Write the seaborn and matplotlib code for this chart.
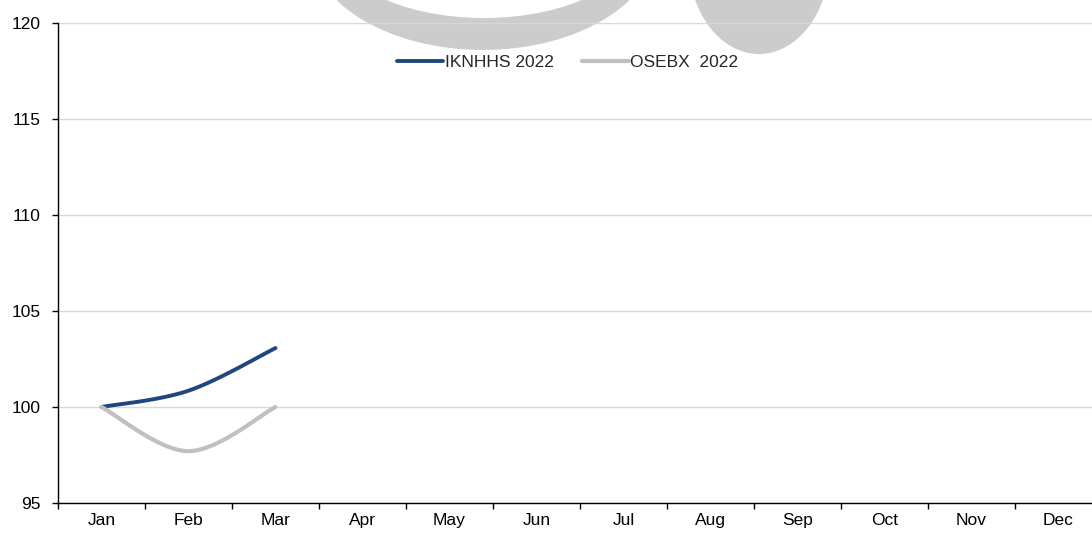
import numpy as np
import pandas as pd
import matplotlib
matplotlib.use("Agg")
import matplotlib.pyplot as plt
from matplotlib.patches import Ellipse
import seaborn as sns

# data
months = ["Jan", "Feb", "Mar", "Apr", "May", "Jun", "Jul", "Aug", "Sep", "Oct", "Nov", "Dec"]
iknhhs_2022 = [100.0, 100.85, 103.07]
osebx_2022 = [100.0, 97.7, 100.0]
series_names = ["IKNHHS 2022", "OSEBX  2022"]
series_colors = ["#1F477D", "#C0C0C0"]
y_ticks = [95, 100, 105, 110, 115, 120]


def smooth(values, n=40):
    # excel-like smoothed line: bezier segments with catmull-rom control points
    pts = np.column_stack([np.arange(len(values)), values]).astype(float)
    xs, ys = [], []
    for i in range(len(pts) - 1):
        p0 = pts[max(i - 1, 0)]
        p1 = pts[i]
        p2 = pts[i + 1]
        p3 = pts[min(i + 2, len(pts) - 1)]
        c1 = p1 + (p2 - p0) / 6
        c2 = p2 - (p3 - p1) / 6
        t = np.linspace(0, 1, n)[:, None]
        seg = (1 - t) ** 3 * p1 + 3 * (1 - t) ** 2 * t * c1 + 3 * (1 - t) * t ** 2 * c2 + t ** 3 * p2
        xs.extend(seg[:, 0])
        ys.extend(seg[:, 1])
    return xs, ys


sns.set_theme(style="white")
plt.rcParams["font.family"] = ["Liberation Sans", "DejaVu Sans"]

fig = plt.figure(figsize=(10.92, 5.36), dpi=100)
W, H = 1092, 536
ax = fig.add_axes([58 / W, 33 / H, 1044 / W, 480 / H])
ax.set_facecolor("none")

# grey watermark behind the plot (figure pixel coordinates)
to_fig = lambda x, y: (x / W, 1 - y / H)
wm = "#CCCCCC"
fig.patches.append(Ellipse(to_fig(483, -60), 350 / W, 220 / H, transform=fig.transFigure,
                           facecolor=wm, edgecolor="none", zorder=-2))
fig.patches.append(Ellipse(to_fig(484, -60), 306 / W, 156 / H, transform=fig.transFigure,
                           facecolor="white", edgecolor="none", zorder=-1))
fig.patches.append(Ellipse(to_fig(759, -40), 141 / W, 188 / H, transform=fig.transFigure,
                           facecolor=wm, edgecolor="none", zorder=-2))

rows = []
for name, vals in zip(series_names, [iknhhs_2022, osebx_2022]):
    xs, ys = smooth(vals)
    rows.append(pd.DataFrame({"x": xs, "y": ys, "serie": name}))
df = pd.concat(rows, ignore_index=True)

for name, color, lw in zip(series_names, series_colors, [2.8, 3.0]):
    sub = df[df["serie"] == name]
    sns.lineplot(data=sub, x="x", y="y", ax=ax, sort=False, color=color,
                 linewidth=lw, label=name, solid_capstyle="round", zorder=3)

ax.set_xlim(-0.5, 11.5)
ax.set_ylim(95, 120)
ax.set_yticks(y_ticks)
ax.set_yticklabels([str(v) for v in y_ticks])
ax.set_xticks(np.arange(len(months)))
ax.set_xticklabels(months)
ax.set_xticks(np.arange(len(months) + 1) - 0.5, minor=True)
ax.tick_params(axis="x", which="major", length=0, pad=7, labelsize=12.5, colors="black")
ax.tick_params(axis="x", which="minor", length=4.5, width=1, direction="out", color="black", bottom=True)
ax.tick_params(axis="y", length=4.5, width=1, direction="out", color="black", left=True,
               labelsize=12.5, pad=8, colors="black")

ax.yaxis.grid(True, color="#D9D9D9", linewidth=1)
ax.xaxis.grid(False)
ax.set_axisbelow(True)
for s in ["top", "right"]:
    ax.spines[s].set_visible(False)
for s in ["left", "bottom"]:
    ax.spines[s].set_color("black")
    ax.spines[s].set_linewidth(1)
ax.set_xlabel("")
ax.set_ylabel("")

ax.legend(loc="center", bbox_to_anchor=(0.488, 0.917), ncol=2, frameon=False,
          fontsize=12.5, handlelength=2.7, handletextpad=0.1, columnspacing=1.6)

fig.savefig("out.png", dpi=100)
